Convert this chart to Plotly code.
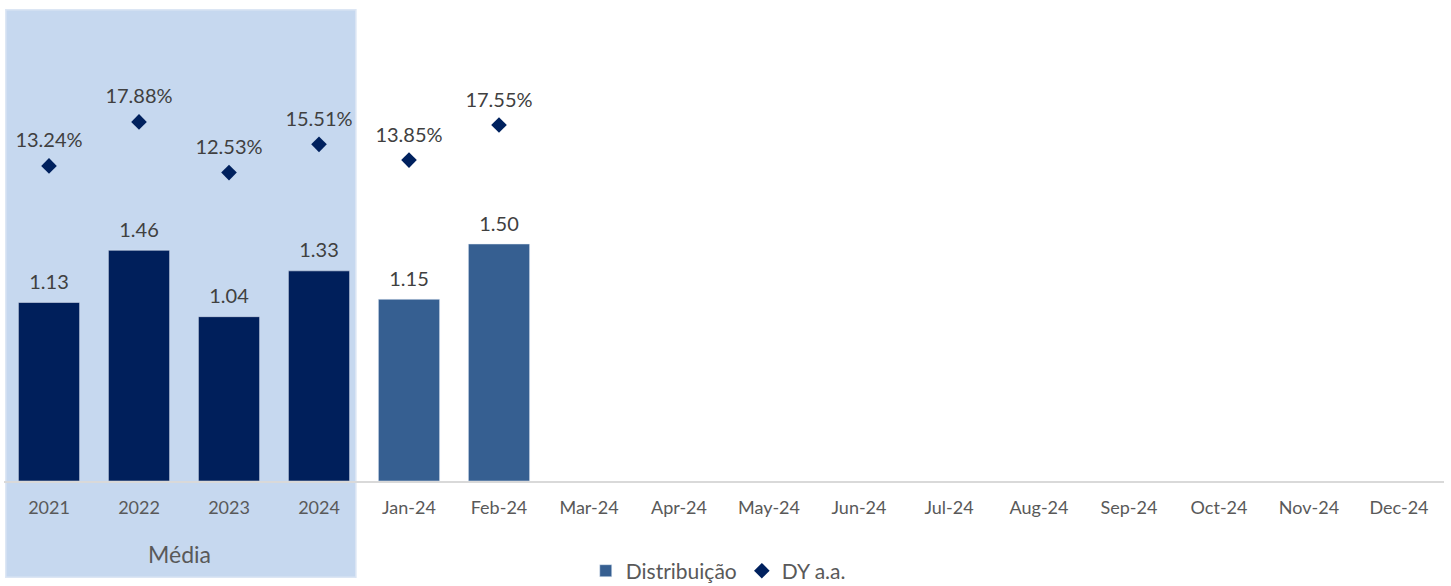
import plotly.graph_objects as go

categories = ["2021", "2022", "2023", "2024", "Jan-24", "Feb-24", "Mar-24", "Apr-24",
              "May-24", "Jun-24", "Jul-24", "Aug-24", "Sep-24", "Oct-24", "Nov-24", "Dec-24"]
media_values = [1.13, 1.46, 1.04, 1.33]
monthly_values = [1.15, 1.50]
dy_values = [0.1324, 0.1788, 0.1253, 0.1551, 0.1385, 0.1755]

n = len(categories)
year_y = media_values + [None] * (n - len(media_values))
month_y = [None] * len(media_values) + monthly_values + [None] * (n - len(media_values) - len(monthly_values))
dy_y = dy_values + [None] * (n - len(dy_values))
bar_all = media_values + monthly_values + [None] * (n - len(media_values) - len(monthly_values))

FONT = "Lato"
TXT = "#404040"

fig = go.Figure()
fig.add_trace(go.Bar(
    x=categories, y=year_y, marker_color="#001F5B", width=0.68,
    showlegend=False, name="Distribuição"))
fig.add_trace(go.Bar(
    x=categories, y=month_y, marker_color="#365F91", width=0.68,
    name="Distribuição"))
# bar value labels
fig.add_trace(go.Scatter(
    x=categories, y=bar_all, mode="markers+text",
    marker=dict(size=12, opacity=0),
    text=[f"{v:.2f}" if v is not None else "" for v in bar_all],
    textposition="top center", textfont=dict(size=20, color=TXT, family=FONT),
    cliponaxis=False, showlegend=False, hoverinfo="skip"))
fig.add_trace(go.Scatter(
    x=categories, y=dy_y, yaxis="y2", mode="markers",
    marker=dict(symbol="diamond", size=12, color="#00215E"),
    cliponaxis=False, name="DY a.a."))
# DY labels
fig.add_trace(go.Scatter(
    x=categories, y=dy_y, yaxis="y2", mode="markers+text",
    marker=dict(size=20, opacity=0),
    text=[f"{v*100:.2f}%" if v is not None else "" for v in dy_y],
    textposition="top center", textfont=dict(size=20, color=TXT, family=FONT),
    cliponaxis=False, showlegend=False, hoverinfo="skip"))

fig.add_shape(type="rect", xref="x", yref="paper", x0=-0.48, x1=3.41, y0=-0.203, y1=0.994,
              fillcolor="#C6D8EF", line=dict(color="#DCE6F4", width=1.5), layer="below")
fig.add_annotation(x=1.45, xref="x", yref="paper", y=-0.155, text="Média", showarrow=False,
                   font=dict(size=23, color="#595959", family=FONT), yanchor="middle")

fig.update_layout(
    width=1451, height=586,
    margin=dict(l=4, r=7, t=7, b=105, autoexpand=False),
    plot_bgcolor="rgba(0,0,0,0)", paper_bgcolor="white",
    barmode="overlay",
    font=dict(family=FONT, color="#595959"),
    xaxis=dict(type="category", range=[-0.5, n - 0.5], showgrid=False,
               showline=True, linecolor="#D9D9D9", linewidth=1.5,
               tickfont=dict(size=18, color="#595959", family=FONT), ticks="",
               ticklabelstandoff=10),
    yaxis=dict(range=[0, 3], visible=False),
    yaxis2=dict(range=[-0.2, 0.3], overlaying="y", visible=False),
    legend=dict(orientation="h", x=0.496, xanchor="center", y=-0.19, yanchor="middle",
                font=dict(size=21, color="#595959", family=FONT), bgcolor="rgba(0,0,0,0)",
                itemwidth=30, traceorder="normal"),
)

fig.write_html("out.html", config={"displayModeBar": False},
               post_script="document.body.style.margin='0';")
